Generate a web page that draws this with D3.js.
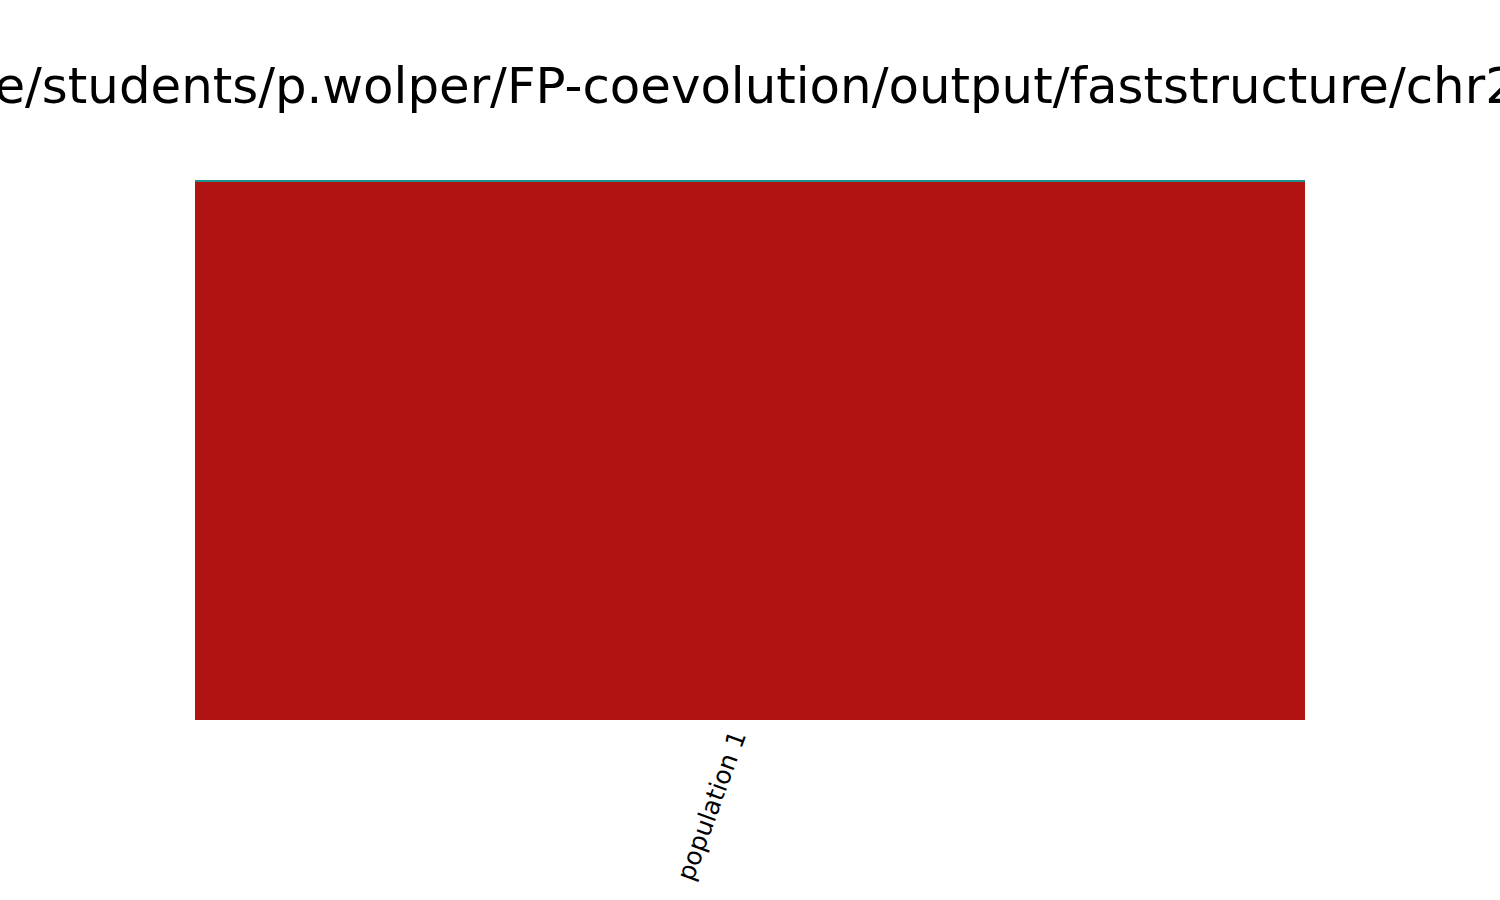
<!DOCTYPE html>
<html>
<head>
<meta charset="utf-8">
<script src="https://cdn.jsdelivr.net/npm/d3@7"></script>
<style>
  html, body { margin: 0; padding: 0; background: #fff; overflow: hidden; }
  svg { display: block; }
</style>
</head>
<body>
<svg id="chart" width="1500" height="900"></svg>
<script>
// ---- data ----
const titleText = "/home/students/p.wolper/FP-coevolution/output/faststructure/chr2_K2";
const categories = ["population 1"];
const clusters = ["cluster 1", "cluster 2"];
const clusterValues = [[0.997], [0.003]];   // per cluster, per category
const clusterColors = ["#b11313", "#1f8f8c"];

// ---- layout ----
const W = 1500, H = 900;
const margin = { left: 195, right: 195, top: 180, bottom: 180 };
const svg = d3.select("#chart");

const x = d3.scaleBand().domain(categories).range([margin.left, W - margin.right]).padding(0);
const y = d3.scaleLinear().domain([0, 1]).range([H - margin.bottom, margin.top]);

// stacked data
const rows = categories.map((c, i) => {
  const o = { category: c };
  clusters.forEach((k, j) => { o[k] = clusterValues[j][i]; });
  return o;
});
const stack = d3.stack().keys(clusters)(rows);

svg.append("g").selectAll("g")
  .data(stack)
  .join("g")
  .attr("fill", (d, i) => clusterColors[i])
  .selectAll("rect")
  .data(d => d)
  .join("rect")
  .attr("x", d => x(d.data.category))
  .attr("width", x.bandwidth())
  .attr("y", d => y(d[1]))
  .attr("height", d => y(d[0]) - y(d[1]))
  .attr("shape-rendering", "crispEdges");

// ---- x axis labels (rotated 70°, right/top aligned) ----
const fontFamily = "'DejaVu Sans', sans-serif";
categories.forEach(c => {
  const cx = x(c) + x.bandwidth() / 2;
  const g = svg.append("g");
  const inner = g.append("g").attr("transform", "rotate(-70)");
  inner.append("text")
    .attr("font-family", fontFamily)
    .attr("font-size", 25)
    .attr("fill", "#000")
    .attr("text-anchor", "end")
    .attr("dominant-baseline", "middle")
    .text(c);
  const bb = g.node().getBoundingClientRect();
  const svgbb = svg.node().getBoundingClientRect();
  const dx = (cx + 2) - (bb.right - svgbb.left);
  const dy = (H - margin.bottom + 7) - (bb.top - svgbb.top);
  g.attr("transform", `translate(${dx},${dy})`);
});

// ---- title (wider than the page, clipped at both edges like the reference) ----
function textW(s, size) {
  const t = svg.append("text").attr("font-family", fontFamily).attr("font-size", size).text(s);
  const w = t.node().getComputedTextLength();
  t.remove();
  return w;
}
const iP = titleText.indexOf("p.wolper");
const iC = titleText.indexOf("chr2");
const w1 = textW(titleText.slice(0, iP), 100);
const w2 = textW(titleText.slice(0, iC), 100);
const titleSize = 100 * (1406 - 275) / (w2 - w1);
const titleX = 275 - w1 * titleSize / 100;
svg.append("text")
  .attr("x", titleX)
  .attr("y", 103)
  .attr("font-family", fontFamily)
  .attr("font-size", titleSize)
  .attr("fill", "#000")
  .text(titleText);
</script>
</body>
</html>
